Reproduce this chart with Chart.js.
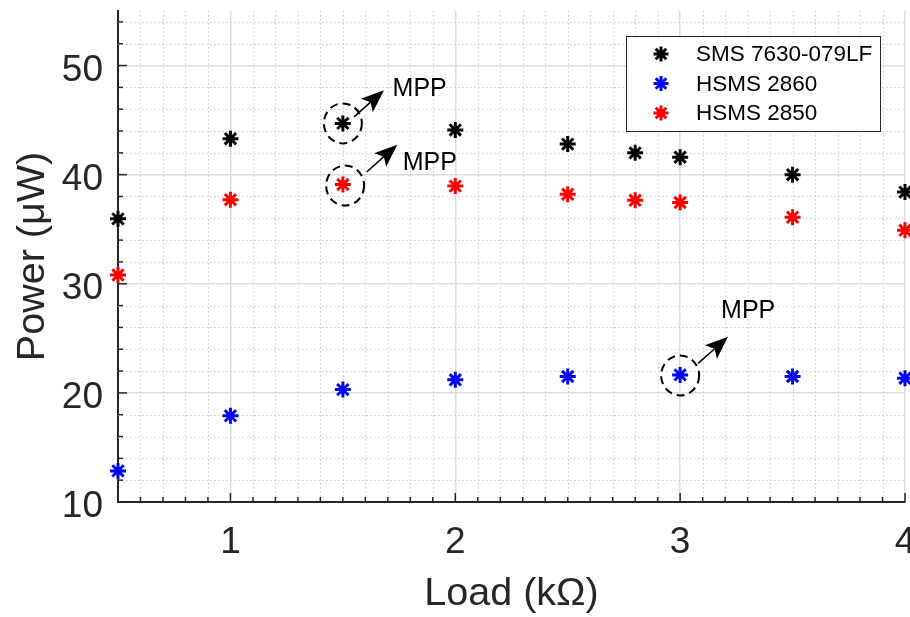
<!DOCTYPE html>
<html lang="en">
<head>
  <meta charset="UTF-8">
  <title>Power vs Load</title>
  <script src="https://cdn.jsdelivr.net/npm/chart.js@4.4.1/dist/chart.umd.min.js"></script>
  <style>
    html, body { margin: 0; padding: 0; background: #fff; overflow: hidden; }
    #box { width: 910px; height: 617px; overflow: hidden; }
  </style>
</head>
<body>
  <div id="box"><canvas id="myChart" width="916" height="617"></canvas></div>

<script>
// data
const loads = [0.5, 1, 1.5, 2, 2.5, 2.8, 3, 3.5, 4];
const smsPower = [35.95, 43.3, 44.7, 44.1, 42.8, 42.0, 41.6, 40.0, 38.4];
const hsms2850Power = [30.8, 37.7, 39.1, 38.95, 38.2, 37.65, 37.45, 36.1, 34.9];
const hsms2860Loads = [0.5, 1, 1.5, 2, 2.5, 3, 3.5, 4];
const hsms2860Power = [12.85, 17.9, 20.3, 21.2, 21.5, 21.65, 21.5, 21.35];

const seriesLabels = ['SMS 7630-079LF', 'HSMS 2860', 'HSMS 2850'];
const seriesColors = ['#000000', '#0000ff', '#ff0000'];

const xTicks = [1, 2, 3, 4];
const yTicks = [10, 20, 30, 40, 50];

// MPP notes: circled point, arrow start, arrow tip, text (all in data units)
const mppPoints = [[1.5, 44.7], [1.51, 39.0], [3.0, 21.6]];
const mppArrowFrom = [[1.55, 45.3], [1.606, 40.24], [3.08, 22.7]];
const mppArrowTo = [[1.683, 47.74], [1.742, 42.75], [3.213, 25.15]];
const mppText = [[1.721, 47.83], [1.766, 41.1], [3.182, 27.54]];

const FONT = "'Liberation Sans', Arial, sans-serif";
const INK = '#262626';

function pts(xs, ys) { return xs.map((x, i) => ({ x: x, y: ys[i] })); }

function line(ctx, x1, y1, x2, y2) {
  ctx.beginPath(); ctx.moveTo(x1, y1); ctx.lineTo(x2, y2); ctx.stroke();
}

// dotted minor grid + inward ticks
const minorGrid = {
  id: 'minorGrid',
  beforeDatasetsDraw(chart) {
    const { ctx, chartArea: a, scales: { x, y } } = chart;
    ctx.save();
    ctx.strokeStyle = '#cdcdcd';
    ctx.lineWidth = 1;
    ctx.setLineDash([1.5, 2.5]);
    for (let i = 6; i < 40; i++) {
      if (i % 10 === 0) continue;
      const px = Math.round(x.getPixelForValue(i / 10)) + 0.5;
      line(ctx, px, a.top, px, a.bottom);
    }
    for (let v = 12; v < 56; v += 2) {
      if (v % 10 === 0) continue;
      const py = Math.round(y.getPixelForValue(v)) + 0.5;
      line(ctx, a.left, py, a.right, py);
    }
    ctx.setLineDash([]);
    ctx.strokeStyle = INK;
    ctx.lineWidth = 1.5;
    for (let i = 5; i <= 40; i++) {
      const px = x.getPixelForValue(i / 10);
      line(ctx, px, a.bottom, px, a.bottom - (i % 10 === 0 ? 9 : 5));
    }
    for (let v = 10; v < 56; v += 2) {
      const py = y.getPixelForValue(v);
      line(ctx, a.left, py, a.left + (v % 10 === 0 ? 9 : 5), py);
    }
    ctx.restore();
  }
};

// dashed circles, arrows and MPP text
const mppNotes = {
  id: 'mppNotes',
  afterDatasetsDraw(chart) {
    const { ctx, scales: { x, y } } = chart;
    ctx.save();
    ctx.strokeStyle = '#000';
    ctx.fillStyle = '#000';
    mppPoints.forEach((p, i) => {
      const cx = x.getPixelForValue(p[0]), cy = y.getPixelForValue(p[1]);
      ctx.lineWidth = 2;
      ctx.setLineDash([8, 5]);
      ctx.beginPath(); ctx.ellipse(cx, cy, 19, 20, 0, 0, Math.PI * 2); ctx.stroke();
      ctx.setLineDash([]);

      const x1 = x.getPixelForValue(mppArrowFrom[i][0]), y1 = y.getPixelForValue(mppArrowFrom[i][1]);
      const x2 = x.getPixelForValue(mppArrowTo[i][0]), y2 = y.getPixelForValue(mppArrowTo[i][1]);
      const ang = Math.atan2(y2 - y1, x2 - x1);
      const c = Math.cos(ang), s = Math.sin(ang);
      const hl = 23, hw = 9, notch = 18;
      const bx = x2 - hl * c, by = y2 - hl * s;
      const nx = x2 - notch * c, ny = y2 - notch * s;
      ctx.lineWidth = 1.5;
      line(ctx, x1, y1, nx, ny);
      ctx.beginPath();
      ctx.moveTo(x2, y2);
      ctx.lineTo(bx + hw * s, by - hw * c);
      ctx.lineTo(nx, ny);
      ctx.lineTo(bx - hw * s, by + hw * c);
      ctx.closePath();
      ctx.fill();

      ctx.font = '25px ' + FONT;
      ctx.textAlign = 'left';
      ctx.textBaseline = 'middle';
      ctx.fillText('MPP', x.getPixelForValue(mppText[i][0]), y.getPixelForValue(mppText[i][1]));
    });
    ctx.restore();
  }
};

// boxed legend in the upper right of the plot
const boxLegend = {
  id: 'boxLegend',
  afterDraw(chart) {
    const { ctx, chartArea: a } = chart;
    const left = a.right - 279, top = a.top + 25, w = 254, h = 95;
    ctx.save();
    ctx.fillStyle = '#fff';
    ctx.fillRect(left, top, w, h);
    ctx.strokeStyle = INK;
    ctx.lineWidth = 1;
    ctx.strokeRect(left + 0.5, top + 0.5, w, h);
    ctx.font = '22.5px ' + FONT;
    ctx.textBaseline = 'middle';
    ctx.textAlign = 'left';
    [0, 1, 2].forEach((d, i) => {
      const ds = chart.data.datasets[d];
      const yy = top + 18 + i * 29.5;
      ctx.strokeStyle = ds.borderColor;
      ctx.fillStyle = ds.borderColor;
      ctx.lineWidth = 3;
      Chart.helpers.drawPoint(ctx, { pointStyle: 'star', radius: 7.5, rotation: 0, borderWidth: 3 }, left + 35, yy);
      ctx.fillStyle = '#000';
      ctx.fillText(ds.label, left + 70, yy + 1);
    });
    ctx.restore();
  }
};

function series(label, color, data) {
  return {
    label: label,
    data: data,
    showLine: false,
    pointStyle: 'star',
    pointRadius: 8,
    pointHoverRadius: 8,
    borderWidth: 3,
    pointBorderWidth: 3,
    borderColor: color,
    backgroundColor: color,
    clip: false
  };
}

const config = {
  type: 'scatter',
  data: {
    datasets: [
      series(seriesLabels[0], seriesColors[0], pts(loads, smsPower)),
      series(seriesLabels[1], seriesColors[1], pts(hsms2860Loads, hsms2860Power)),
      series(seriesLabels[2], seriesColors[2], pts(loads, hsms2850Power))
    ]
  },
  options: {
    responsive: false,
    animation: false,
    layout: { padding: { top: 11, right: 0, left: 0, bottom: 0 } },
    plugins: { legend: { display: false }, tooltip: { enabled: false } },
    scales: {
      x: {
        type: 'linear',
        min: 0.5,
        max: 4,
        afterBuildTicks: s => { s.ticks = xTicks.map(v => ({ value: v })); },
        afterFit: s => { s.height = 115; s.paddingLeft = 0; s.paddingRight = 0; },
        grid: { color: '#dcdcdc', lineWidth: 1.5, drawTicks: false },
        border: { display: true, color: INK, width: 2 },
        ticks: { color: INK, padding: 19, maxRotation: 0, font: { family: FONT, size: 37 } },
        title: {
          display: true, text: 'Load (kΩ)', color: INK,
          font: { family: FONT, size: 39.5, lineHeight: 1 },
          padding: { top: 0, bottom: 3 }
        }
      },
      y: {
        type: 'linear',
        min: 10,
        max: 55,
        afterBuildTicks: s => { s.ticks = yTicks.map(v => ({ value: v })); },
        afterFit: s => { s.width = 118; s.paddingTop = 0; s.paddingBottom = 0; },
        grid: { color: '#dcdcdc', lineWidth: 1.5, drawTicks: false },
        border: { display: true, color: INK, width: 2 },
        ticks: { color: INK, padding: 15, labelOffset: 5, font: { family: FONT, size: 37 } },
        title: {
          display: true, text: 'Power (μW)', color: INK,
          font: { family: FONT, size: 39.5, lineHeight: 1 },
          padding: { top: 13, bottom: 0 }
        }
      }
    }
  },
  plugins: [minorGrid, mppNotes, boxLegend]
};

const myChart = new Chart(document.getElementById('myChart'), config);
</script>
</body>
</html>
